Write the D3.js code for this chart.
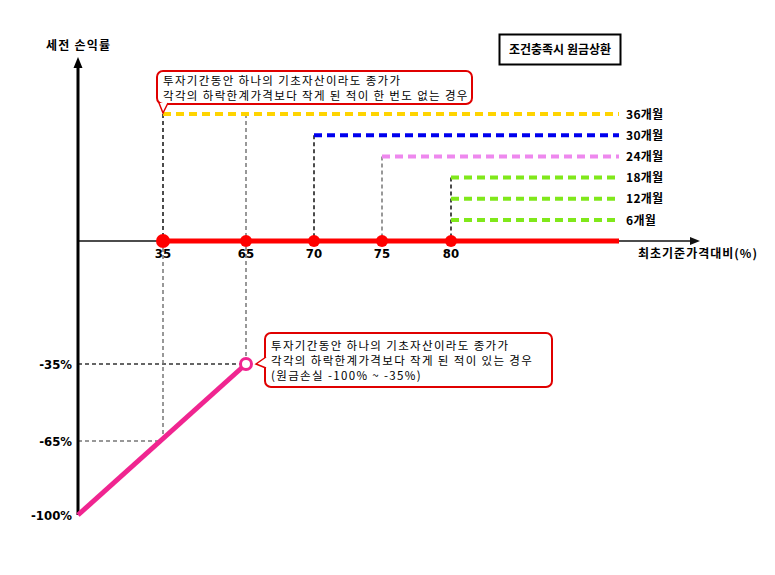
<!DOCTYPE html>
<html>
<head>
<meta charset="utf-8">
<script src="https://cdn.jsdelivr.net/npm/d3@7"></script>
<style>
  body { margin: 0; background: #fff; }
  .kr { font-family: "Noto Sans CJK KR", sans-serif; }
  .num { font-family: "Liberation Sans Narrow", "DejaVu Sans Condensed", sans-serif; font-weight: 700; }
</style>
</head>
<body>
<div id="chart"></div>
<script>
// 조기상환 평가시점과 각 시점의 상환 조건 (최초기준가격 대비 %)
const months = ['36개월', '30개월', '24개월', '18개월', '12개월', '6개월'];
const barriers = [35, 70, 75, 80, 80, 80];
const monthColors = ['#ffd400', '#0000ee', '#ee88ee', '#80e81a', '#80e81a', '#80e81a'];

// x축 눈금, y축 눈금
const xTicks = [35, 65, 70, 75, 80];
const yTicks = [-35, -65, -100];

// 손실 구간: 기초자산 종가(%) → 세전 손익률(%)
const lossX = [0, 35, 65];
const lossY = [-100, -65, -35];

const width = 775, height = 575;

const svg = d3.select('#chart').append('svg')
  .attr('width', width)
  .attr('height', height);

// 개념도라서 축 간격이 고르지 않음 -> 구간별 선형 스케일
const x = d3.scaleLinear()
  .domain([0, 35, 65, 70, 75, 80, 92.4])
  .range([78, 163, 246, 314, 382, 451, 619]);
const y = d3.scaleLinear()
  .domain([-100, -65, -35, 0])
  .range([515, 441, 364, 241]);
const yMonth = d3.scalePoint()
  .domain(months)
  .range([114, 220]);

const xEnd = x.domain()[x.domain().length - 1];

// 보조 점선 (손실 구간)
const guides = svg.append('g');
guides.append('line')
  .attr('x1', x(0)).attr('x2', x(65))
  .attr('y1', y(-35)).attr('y2', y(-35))
  .attr('stroke', '#333').attr('stroke-width', 1.3).attr('stroke-dasharray', '4,3');
guides.append('line')
  .attr('x1', x(0)).attr('x2', x(35))
  .attr('y1', y(-65)).attr('y2', y(-65))
  .attr('stroke', '#777').attr('stroke-width', 1.5).attr('stroke-dasharray', '4,3');
guides.append('line')
  .attr('x1', x(35)).attr('x2', x(35))
  .attr('y1', y(0)).attr('y2', y(-65))
  .attr('stroke', '#777').attr('stroke-width', 1.5).attr('stroke-dasharray', '4,3');
guides.append('line')
  .attr('x1', x(65)).attr('x2', x(65))
  .attr('y1', yMonth(months[0])).attr('y2', y(-35))
  .attr('stroke', '#777').attr('stroke-width', 1.5).attr('stroke-dasharray', '4,3');

// 상환 조건 세로 점선
const barrierGuides = [
  { v: 35, m: '36개월', c: '#111' },
  { v: 70, m: '30개월', c: '#111' },
  { v: 75, m: '24개월', c: '#777' },
  { v: 80, m: '18개월', c: '#111' }
];
guides.selectAll('.bguide')
  .data(barrierGuides)
  .join('line')
  .attr('class', 'bguide')
  .attr('x1', d => x(d.v)).attr('x2', d => x(d.v))
  .attr('y1', d => yMonth(d.m)).attr('y2', y(0))
  .attr('stroke', d => d.c)
  .attr('stroke-width', 1.5)
  .attr('stroke-dasharray', '4,3');

// 상환 구간 점선
const repay = svg.append('g');
repay.selectAll('line')
  .data(months)
  .join('line')
  .attr('x1', (d, i) => x(barriers[i]))
  .attr('x2', x(xEnd))
  .attr('y1', d => yMonth(d))
  .attr('y2', d => yMonth(d))
  .attr('stroke', (d, i) => monthColors[i])
  .attr('stroke-width', 4)
  .attr('stroke-dasharray', '8,5');
repay.selectAll('text')
  .data(months)
  .join('text')
  .attr('class', 'kr')
  .attr('x', 626)
  .attr('y', d => yMonth(d) + 4.5)
  .attr('font-size', 12)
  .attr('font-weight', 700)
  .attr('letter-spacing', 0.3)
  .text(d => d);

// x축
const axis = svg.append('g');
axis.append('line')
  .attr('x1', x(0)).attr('x2', 694)
  .attr('y1', y(0)).attr('y2', y(0))
  .attr('stroke', '#111').attr('stroke-width', 1.5);
axis.append('path')
  .attr('d', `M700,${y(0)} L690,${y(0) - 4} L690,${y(0) + 4} Z`)
  .attr('fill', '#111');
axis.append('line')
  .attr('x1', x(35)).attr('x2', x(xEnd))
  .attr('y1', y(0)).attr('y2', y(0))
  .attr('stroke', '#ff0000').attr('stroke-width', 5);
axis.selectAll('circle')
  .data(xTicks)
  .join('circle')
  .attr('cx', d => x(d))
  .attr('cy', y(0))
  .attr('r', d => d === 35 ? 7 : 6)
  .attr('fill', '#ff0000');
axis.selectAll('.xtick')
  .data(xTicks)
  .join('text')
  .attr('class', 'xtick num')
  .attr('x', d => x(d))
  .attr('y', y(0) + 17)
  .attr('text-anchor', 'middle')
  .attr('font-size', 13)
  .text(d => d);
axis.append('text')
  .attr('class', 'kr')
  .attr('x', 638)
  .attr('y', 258)
  .attr('font-size', 12)
  .attr('font-weight', 700)
  .attr('letter-spacing', 1)
  .text('최초기준가격대비(%)');

// y축
axis.append('line')
  .attr('x1', x(0)).attr('x2', x(0))
  .attr('y1', y(-100)).attr('y2', 66)
  .attr('stroke', '#000').attr('stroke-width', 3);
axis.append('path')
  .attr('d', `M${x(0)},57 L${x(0) - 4.5},68 L${x(0) + 4.5},68 Z`)
  .attr('fill', '#000');
axis.selectAll('.ytick')
  .data(yTicks)
  .join('text')
  .attr('class', 'ytick num')
  .attr('x', 72)
  .attr('y', d => y(d) + 5)
  .attr('text-anchor', 'end')
  .attr('font-size', 13)
  .text(d => d + '%');
axis.append('text')
  .attr('class', 'kr')
  .attr('x', 46)
  .attr('y', 50)
  .attr('font-size', 12)
  .attr('font-weight', 700)
  .attr('letter-spacing', 1.2)
  .text('세전 손익률');

// 손실 직선
const lossPts = lossX.map((v, i) => [x(v), y(lossY[i])]);
svg.append('path')
  .attr('d', d3.line()([lossPts[0], lossPts[lossPts.length - 1]]))
  .attr('stroke', '#f02590')
  .attr('stroke-width', 5)
  .attr('fill', 'none');
svg.append('circle')
  .attr('cx', x(65)).attr('cy', y(-35))
  .attr('r', 5.5)
  .attr('fill', '#fff')
  .attr('stroke', '#f02590')
  .attr('stroke-width', 3);

// 제목 상자
svg.append('rect')
  .attr('x', 499.5).attr('y', 34.5)
  .attr('width', 121).attr('height', 30)
  .attr('fill', '#fff').attr('stroke', '#000').attr('stroke-width', 2);
svg.append('text')
  .attr('class', 'kr')
  .attr('x', 560).attr('y', 54)
  .attr('text-anchor', 'middle')
  .attr('font-size', 12)
  .attr('font-weight', 700)
  .text('조건충족시 원금상환');

// 말풍선
function callout(box, pointer, lines, lineY) {
  const g = svg.append('g');
  g.append('rect')
    .attr('x', box[0]).attr('y', box[1])
    .attr('width', box[2]).attr('height', box[3])
    .attr('rx', 6)
    .attr('fill', '#fff')
    .attr('stroke', '#e00000')
    .attr('stroke-width', 2);
  g.append('path')
    .attr('d', d3.line()(pointer))
    .attr('fill', '#fff')
    .attr('stroke', '#e00000')
    .attr('stroke-width', 1.5);
  g.selectAll('text')
    .data(lines)
    .join('text')
    .attr('class', 'kr')
    .attr('x', box[0] + 6)
    .attr('y', (d, i) => lineY[i])
    .attr('font-size', 11.5)
    .attr('letter-spacing', 1.35)
    .text(d => d);
}

callout([157, 71, 315, 33],
  [[159, 103], [x(35), 113], [168, 103]],
  ['투자기간동안 하나의 기초자산이라도 종가가',
   '각각의 하락한계가격보다 작게 된 적이 한 번도 없는 경우'],
  [85, 100]);

callout([265, 333, 287, 54],
  [[266, 357], [x(65) + 10, y(-35)], [266, 368]],
  ['투자기간동안 하나의 기초자산이라도 종가가',
   '각각의 하락한계가격보다 작게 된 적이 있는 경우',
   '(원금손실 -100% ~ -35%)'],
  [350, 365, 380]);
</script>
</body>
</html>
